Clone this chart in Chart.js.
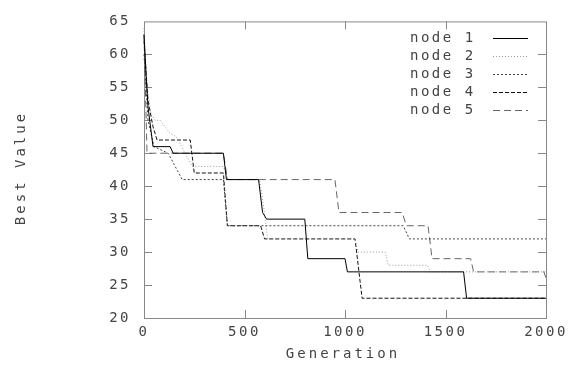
<!DOCTYPE html>
<html>
<head>
<meta charset="utf-8">
<script src="https://cdn.jsdelivr.net/npm/chart.js@4/dist/chart.umd.min.js"></script>
<style>
    html, body { margin: 0; padding: 0; background: #fff; }
    #wrap { width: 574px; height: 366px; }
</style>
</head>
<body>
<div id="wrap"><canvas id="bestChart" width="574" height="366"></canvas></div>
<script>
// Axis ticks
const xTicks = [0, 500, 1000, 1500, 2000];
const yTicks = [20, 25, 30, 35, 40, 45, 50, 55, 60, 65];

// Best value per node (generation / value pairs)
const node1Gen = [0, 10, 20, 45, 130, 145, 395, 410, 570, 590, 610, 800, 815, 1000, 1012, 1590, 1605, 2000];
const node1Val = [63, 57, 52, 46, 46, 45, 45, 41, 41, 36, 35, 35, 29, 29, 27, 27, 23, 23];

const node2Gen = [0, 15, 35, 55, 80, 130, 160, 240, 395, 420, 575, 595, 615, 1050, 1065, 1200, 1215, 1410, 1425, 2000];
const node2Val = [64, 55, 51, 50, 50, 48, 47.5, 43, 43, 41, 41, 37, 32, 32, 30, 30, 28, 28, 27, 27];

const node3Gen = [0, 20, 50, 120, 190, 395, 415, 1290, 1320, 2000];
const node3Val = [60, 50, 46, 45, 41, 41, 34, 34, 32, 32];

const node4Gen = [0, 20, 45, 65, 230, 250, 395, 415, 580, 600, 1050, 1085, 2000];
const node4Val = [62, 53, 49, 47, 47, 42, 42, 34, 34, 32, 32, 23, 23];

const node5Gen = [0, 15, 395, 415, 950, 970, 1285, 1305, 1413, 1433, 1625, 1640, 1990, 2000];
const node5Val = [63, 45, 45, 41, 41, 36, 36, 34, 34, 29, 29, 27, 27, 26];

const FONT = 'DejaVu Sans Mono';

function toPoints(gens, vals) {
    return gens.map((g, i) => ({ x: g, y: vals[i] }));
}

function makeSet(label, gens, vals, color, dash) {
    return {
        label: label,
        data: toPoints(gens, vals),
        borderColor: color,
        borderWidth: 1,
        borderDash: dash,
        pointRadius: 0,
        tension: 0,
        fill: false,
        clip: false
    };
}

// Frame, inward ticks, titles and key drawn like the gnuplot original
const framePlugin = {
    id: 'frame',
    beforeDraw(chart) {
        chart.ctx.letterSpacing = '2.5px';
    },
    beforeDatasetsDraw(chart) {
        const { ctx, chartArea: a, scales: { x, y } } = chart;
        ctx.save();
        ctx.strokeStyle = '#888';
        ctx.lineWidth = 1;
        ctx.strokeRect(a.left + 0.5, a.top + 0.5, a.right - a.left, a.bottom - a.top);
        ctx.beginPath();
        yTicks.slice(1, -1).forEach(v => {
            const py = Math.round(y.getPixelForValue(v)) + 0.5;
            ctx.moveTo(a.left, py); ctx.lineTo(a.left + 8, py);
            ctx.moveTo(a.right, py); ctx.lineTo(a.right - 8, py);
        });
        xTicks.slice(1, -1).forEach(v => {
            const px = Math.round(x.getPixelForValue(v)) + 0.5;
            ctx.moveTo(px, a.bottom); ctx.lineTo(px, a.bottom - 8);
            ctx.moveTo(px, a.top); ctx.lineTo(px, a.top + 8);
        });
        ctx.stroke();
        ctx.restore();
    },
    afterDraw(chart) {
        const ctx = chart.ctx;
        ctx.save();
        ctx.fillStyle = '#444';
        ctx.font = '14px ' + FONT;
        ctx.textBaseline = 'middle';

        // axis titles
        ctx.letterSpacing = '3px';
        ctx.textAlign = 'center';
        ctx.fillText('Generation', 343, 354);
        ctx.save();
        ctx.translate(21, 168);
        ctx.rotate(-Math.PI / 2);
        ctx.fillText('Best Value', 0, 0);
        ctx.restore();

        // key
        ctx.letterSpacing = '2.5px';
        ctx.textAlign = 'left';
        chart.data.datasets.forEach((ds, i) => {
            const ty = 38 + i * 18;
            ctx.fillStyle = '#444';
            ctx.fillText(ds.label, 410, ty);
            ctx.beginPath();
            ctx.strokeStyle = ds.borderColor;
            ctx.lineWidth = 1;
            ctx.setLineDash(ds.borderDash);
            ctx.moveTo(493, ty + 0.5);
            ctx.lineTo(528, ty + 0.5);
            ctx.stroke();
        });
        ctx.restore();
    }
};

const ctx = document.getElementById('bestChart').getContext('2d');
new Chart(ctx, {
    type: 'line',
    data: {
        datasets: [
            makeSet('node 1', node1Gen, node1Val, '#000', []),
            makeSet('node 2', node2Gen, node2Val, '#999', [1, 2]),
            makeSet('node 3', node3Gen, node3Val, '#444', [2, 2]),
            makeSet('node 4', node4Gen, node4Val, '#111', [4, 2]),
            makeSet('node 5', node5Gen, node5Val, '#666', [7, 4])
        ]
    },
    options: {
        responsive: false,
        devicePixelRatio: 1,
        animation: false,
        layout: { padding: { top: 12, right: 28, left: 0, bottom: 0 } },
        plugins: {
            legend: { display: false },
            tooltip: { enabled: false }
        },
        scales: {
            x: {
                type: 'linear',
                min: 0,
                max: 2000,
                afterFit: s => { s.height = 48; },
                afterBuildTicks: s => { s.ticks = xTicks.map(v => ({ value: v })); },
                grid: { display: false, drawTicks: false },
                border: { display: false },
                ticks: {
                    padding: 6,
                    color: '#444',
                    maxRotation: 0,
                    autoSkip: false,
                    font: { family: FONT, size: 14 },
                    callback: v => String(v)
                }
            },
            y: {
                type: 'linear',
                min: 20,
                max: 65,
                afterFit: s => { s.width = 144; },
                afterBuildTicks: s => { s.ticks = yTicks.map(v => ({ value: v })); },
                grid: { display: false, drawTicks: false },
                border: { display: false },
                ticks: {
                    padding: 13,
                    color: '#444',
                    autoSkip: false,
                    font: { family: FONT, size: 14 },
                    callback: v => String(v)
                }
            }
        }
    },
    plugins: [framePlugin]
});
</script>
</body>
</html>
